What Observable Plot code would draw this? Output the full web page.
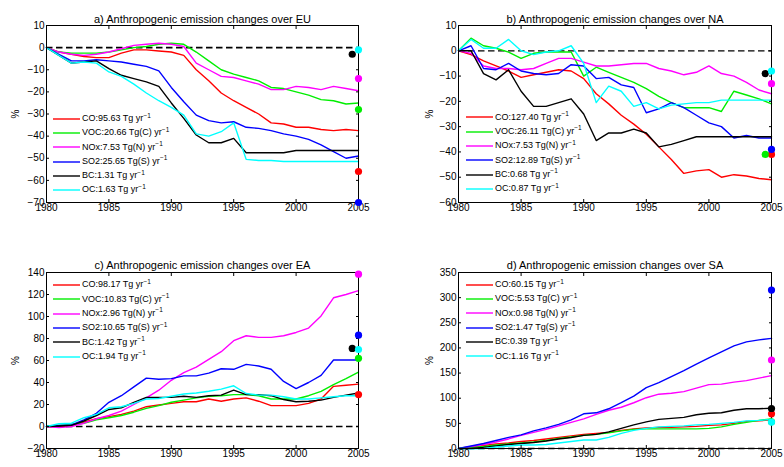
<!DOCTYPE html>
<html>
<head>
<meta charset="utf-8">
<script src="https://cdn.jsdelivr.net/npm/d3@7"></script>
<script src="https://cdn.jsdelivr.net/npm/@observablehq/plot@0.6"></script>
<style>
  html, body { margin: 0; padding: 0; background: white; }
  #wrap { position: relative; width: 784px; height: 467px; background: white; overflow: hidden;
          font-family: "Liberation Sans", Arial, Helvetica, sans-serif; }
  .panel { position: absolute; }
  .legend { position: absolute; font-size: 9px; color: black; }
  .row { height: 14.3px; line-height: 14.3px; white-space: nowrap; display: flex; align-items: center; }
  .sw { display: block; width: 27px; height: 6px; margin-right: 2px; overflow: visible; }
  .row sup { font-size: 6.5px; vertical-align: 0; position: relative; top: -3.5px; }
</style>
</head>
<body>
<div id="wrap"></div>
<script>
const years = d3.range(1980, 2006);
const series = ["CO", "VOC", "NOx", "SO2", "BC", "OC"];
const colors = ["#ff0000", "#00ee00", "#ff00ff", "#0000ff", "#000000", "#00ffff"];
const xTicks = [1980, 1985, 1990, 1995, 2000, 2005];

// a) EU
const euCO  = [0,-2,-3,-4,-4.5,-4.5,-2.5,-1,-1,-1.5,-2,-3.5,-10,-15,-20.5,-24,-27,-30,-34,-34.5,-36,-36,-37,-37.5,-37,-37.5];
const euVOC = [0,-2,-2.5,-2.5,-2.5,-2,-1,0,0.5,1.5,2,1.5,-2,-6,-10,-12,-13.5,-15,-18,-18.5,-20,-21.5,-23.5,-24,-25.5,-25];
const euNOx = [0,-2,-3,-3.5,-3,-2,-0.5,1,1.5,2,1.5,0.5,-7,-10,-13,-13.5,-15,-16.5,-19,-19,-17.5,-18,-19,-17.5,-18.5,-19.5];
const euSO2 = [0,-3,-6,-6,-5.5,-6,-6.5,-7.5,-8.5,-10.5,-18,-24.5,-30.5,-33,-34,-33.5,-36,-36.5,-37.5,-39,-40,-41.5,-44,-47,-50,-49];
const euBC  = [0,-3.5,-7,-6.5,-6,-9.5,-12.5,-14,-15.5,-17.5,-25,-32,-39.5,-43,-43,-41,-47.5,-47.5,-47.5,-47.5,-46.5,-46.5,-46.5,-46.5,-46.5,-46.5];
const euOC  = [0,-3.5,-7,-6.5,-7,-11,-13,-16.5,-20.5,-24,-27,-30.5,-39,-40,-38,-34,-50.5,-51,-51,-51.5,-51.5,-51.5,-51.5,-51.5,-51.5,-51.5];
const euDotValues = [-56, -28, -14, -70, -3, -1];
const euDotYears  = [2005, 2005, 2005, 2005, 2004.5, 2005];
const euLegend = ["CO:95.63 Tg yr", "VOC:20.66 Tg(C) yr", "NOx:7.53 Tg(N) yr", "SO2:25.65 Tg(S) yr", "BC:1.31 Tg yr", "OC:1.63 Tg yr"];
const euYTicks = [-70,-60,-50,-40,-30,-20,-10,0,10];

// b) NA
const naCO  = [0,-1.5,-4,-6,-8,-10.5,-9.5,-8.5,-7.5,-8,-11,-17,-21,-25.5,-29,-33,-38,-43,-48.5,-47.5,-47,-50,-49,-49.5,-50.5,-51];
const naVOC = [0,5,2,1,-0.5,-3,-1,-0.5,-0.5,-0.5,-10,-6.5,-8.5,-10.5,-12.5,-15,-18,-20.5,-22.5,-22.5,-22.5,-24,-16,-17.5,-19,-21];
const naNOx = [0,-1,-6,-7,-7,-7.5,-7,-5,-3,-3,-4.5,-6,-6,-5.5,-5,-5,-7,-8,-9.5,-8.5,-6,-9,-10,-12.5,-15.5,-17];
const naSO2 = [0,2,-7,-7.5,-5,-8,-9,-9.5,-9,-5.5,-6,-11,-10.5,-13.5,-14.5,-24.5,-23,-20.5,-22.5,-25.5,-28.5,-30,-34.5,-33.5,-34.5,-34.5];
const naBC  = [0,0,-9,-11.5,-7.5,-16,-22,-22,-20.5,-19,-25,-35.5,-32.5,-32.5,-31,-32.5,-38,-37,-35.5,-34,-34,-34,-34,-34,-34,-34];
const naOC  = [0,4.5,1,1,4.5,0,-1.5,-0.5,0,2,-5,-20.5,-14,-16,-22,-20.5,-23,-21.5,-21,-20.5,-20.5,-19.5,-19.5,-19.5,-19.5,-19.5];
const naDotValues = [-41, -41, -13, -39, -9, -8];
const naDotYears  = [2005, 2004.5, 2005, 2005, 2004.5, 2005];
const naLegend = ["CO:127.40 Tg yr", "VOC:26.11 Tg(C) yr", "NOx:7.53 Tg(N) yr", "SO2:12.89 Tg(S) yr", "BC:0.68 Tg yr", "OC:0.87 Tg yr"];
const naYTicks = [-60,-50,-40,-30,-20,-10,0,10];

// c) EA
const eaCO  = [0,-0.5,1,4,7,9,11,14,18,19.5,21,22.5,22.5,25,23,25,26,23,19,19,19,21,25,36.5,37.5,38.5];
const eaVOC = [0,1,2,3,6,8,10,13,16.5,19,22,24,26,27.5,28,29,29,28,25,25,25,28,32,38,43.5,49.5];
const eaNOx = [0,-1,0,3,7,10,14,20,26,33,42,49,54,61,68,78,82.5,81,81,82.5,85.5,89.5,100.5,117,120,123.5];
const eaSO2 = [0,1,1.5,6,12,22,28,36,44,43,43.5,46,46,48.5,52.5,52,56.5,55,52,41,34.5,40,46.5,60.5,60.5,60.5];
const eaBC  = [0,0.5,1,5,10,15.5,17,22,26.5,26.5,26.5,27.5,26.5,28,28.5,33,29,29,28,24.5,22.5,23,24,26.5,28.5,30.5];
const eaOC  = [0,2.5,3,8,11,17,18,21,25,25.5,27.5,29.5,30.5,32,34,37,30,28.5,28.5,27,25,25,26,27,28,28];
const eaDotValues = [29, 62, 138.5, 83, 71, 70];
const eaDotYears  = [2005, 2005, 2005, 2005, 2004.5, 2005];
const eaLegend = ["CO:98.17 Tg yr", "VOC:10.83 Tg(C) yr", "NOx:2.96 Tg(N) yr", "SO2:10.65 Tg(S) yr", "BC:1.42 Tg yr", "OC:1.94 Tg yr"];
const eaYTicks = [-20,0,20,40,60,80,100,120,140];

// d) SA
const saCO  = [0,3,6,9,11,14,16,19,22,25,28,30,32,36,39,41,42,42,43,44,46,47,50,54,55,57];
const saVOC = [0,2,4,7,9,11,13,16,20,23,26,28,31,35,38,39,39,39,39,39,40,43,48,52,56,59];
const saNOx = [0,4,8,13,19,26,32,38,45,52,59,68,76,82,91,101,108,110,113,120,127,128,132,135,140,145];
const saSO2 = [0,5,10,16,22,27,35,41,48,57,69,71,79,91,104,121,131,143,155,168,180,192,204,212,216,219];
const saBC  = [0,0,2,5,8,10,12,15,19,22,26,28,33,40,47,53,58,60,62,67,70,71,76,79,79,80];
const saOC  = [0,-0.5,0,3,5,7,7,8,11,14,17,17,22,30,36,40,43,44,45,47,48,50,52,55,56,58];
const saDotValues = [69, 53, 176, 315, 79.5, 52.5];
const saDotYears  = [2005, 2005, 2005, 2005, 2005, 2005];
const saLegend = ["CO:60.15 Tg yr", "VOC:5.53 Tg(C) yr", "NOx:0.98 Tg(N) yr", "SO2:1.47 Tg(S) yr", "BC:0.39 Tg yr", "OC:1.16 Tg yr"];
const saYTicks = [0,50,100,150,200,250,300,350];

const panels = [
  {title: "a) Anthropogenic emission changes over EU", vals: [euCO, euVOC, euNOx, euSO2, euBC, euOC],
   dv: euDotValues, dy: euDotYears, legend: euLegend, ticks: euYTicks, domain: [-70, 10],
   left: 0, top: 0, h: 234, ml: 46, mr: 34, mt: 25, mb: 32, lo: 35, tdy: -10, dash: 1.7, lx: 53, ly: 111.5},
  {title: "b) Anthropogenic emission changes over NA", vals: [naCO, naVOC, naNOx, naSO2, naBC, naOC],
   dv: naDotValues, dy: naDotYears, legend: naLegend, ticks: naYTicks, domain: [-60, 10],
   left: 392, top: 0, h: 234, ml: 66, mr: 13, mt: 25, mb: 32, lo: 33, tdy: -10, dash: 1.2, lx: 74, ly: 110.2},
  {title: "c) Anthropogenic emission changes over EA", vals: [eaCO, eaVOC, eaNOx, eaSO2, eaBC, eaOC],
   dv: eaDotValues, dy: eaDotYears, legend: eaLegend, ticks: eaYTicks, domain: [-20, 140],
   left: 0, top: 234, h: 233, ml: 46, mr: 34, mt: 38, mb: 19, lo: 35, tdy: -11, dash: 1.7, lx: 53, ly: 43.9},
  {title: "d) Anthropogenic emission changes over SA", vals: [saCO, saVOC, saNOx, saSO2, saBC, saOC],
   dv: saDotValues, dy: saDotYears, legend: saLegend, ticks: saYTicks, domain: [0, 350],
   left: 392, top: 234, h: 233, ml: 66, mr: 13, mt: 38, mb: 19, lo: 33, tdy: -11, dash: 1.4, lx: 74, ly: 43.6}
];

const wrap = document.getElementById("wrap");
const SVGNS = "http://www.w3.org/2000/svg";

for (const p of panels) {
  const data = [];
  series.forEach((s, i) => years.forEach((yr, j) => data.push({year: yr, value: p.vals[i][j], series: s})));
  const dots = series.map((s, i) => ({series: s, year: p.dy[i], value: p.dv[i]}));

  const chart = Plot.plot({
    width: 392, height: p.h,
    marginLeft: p.ml, marginRight: p.mr, marginTop: p.mt, marginBottom: p.mb,
    style: {fontFamily: "'Liberation Sans', Arial, Helvetica, sans-serif", fontSize: "10px", background: "white", overflow: "visible", color: "black"},
    x: {domain: [1980, 2005], ticks: xTicks, tickFormat: "d"},
    y: {domain: p.domain, ticks: p.ticks, tickFormat: "d"},
    color: {domain: series, range: colors},
    marks: [
      Plot.ruleY([0], {stroke: "black", strokeWidth: p.dash, strokeDasharray: "6.5,3.5"}),
      Plot.lineY(data, {x: "year", y: "value", z: "series", stroke: "series", strokeWidth: 1.4}),
      Plot.frame({stroke: "black", strokeWidth: 1}),
      Plot.axisX({anchor: "bottom", ticks: xTicks, tickFormat: "d", tickSize: -3, tickPadding: 4, label: null}),
      Plot.axisX({anchor: "top", ticks: xTicks, tickSize: -3, text: null, label: null}),
      Plot.axisY({anchor: "left", ticks: p.ticks, tickFormat: "d", tickSize: -3, tickPadding: 5,
                  label: "%", labelAnchor: "center", labelArrow: "none", labelOffset: p.lo}),
      Plot.axisY({anchor: "right", ticks: p.ticks, tickSize: -3, text: null, label: null}),
      Plot.dot(dots, {x: "year", y: "value", fill: "series", r: 3.6, clip: false}),
      Plot.text([p.title], {frameAnchor: "top", dy: p.tdy, fontSize: 11})
    ]
  });
  const div = document.createElement("div");
  div.className = "panel";
  div.style.left = p.left + "px";
  div.style.top = p.top + "px";
  div.appendChild(chart);
  wrap.appendChild(div);

  const leg = document.createElement("div");
  leg.className = "legend";
  leg.style.left = (p.left + p.lx) + "px";
  leg.style.top = (p.top + p.ly) + "px";
  p.legend.forEach((txt, i) => {
    const row = document.createElement("div");
    row.className = "row";
    const sw = document.createElementNS(SVGNS, "svg");
    sw.setAttribute("class", "sw");
    sw.setAttribute("width", "27");
    sw.setAttribute("height", "6");
    const ln = document.createElementNS(SVGNS, "line");
    ln.setAttribute("x1", "0"); ln.setAttribute("x2", "27");
    ln.setAttribute("y1", "3"); ln.setAttribute("y2", "3");
    ln.setAttribute("stroke", colors[i]);
    ln.setAttribute("stroke-width", "1.4");
    sw.appendChild(ln);
    const t = document.createElement("span");
    t.textContent = txt;
    const sup = document.createElement("sup");
    sup.textContent = "\u22121";
    t.appendChild(sup);
    row.appendChild(sw);
    row.appendChild(t);
    leg.appendChild(row);
  });
  wrap.appendChild(leg);
}
</script>
</body>
</html>
